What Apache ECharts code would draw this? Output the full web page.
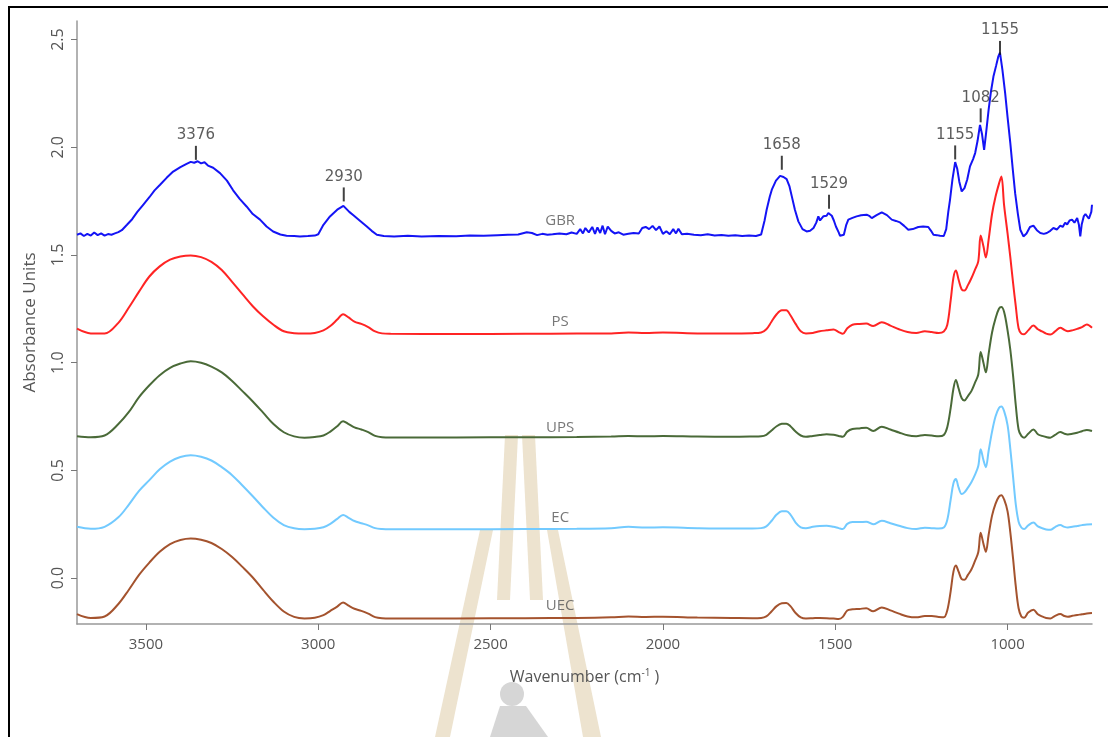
<!DOCTYPE html>
<html>
<head>
<meta charset="utf-8">
<script src="https://cdn.jsdelivr.net/npm/echarts@6/dist/echarts.min.js"></script>
<style>html,body{margin:0;padding:0;background:#fff;}#c{width:1108px;height:737px;}</style>
</head>
<body>
<div id="c"></div>
<script>
// ---- data ----
const wnSmooth = [3700,3660,3620,3580,3550,3520,3490,3460,3430,3400,3370,3340,3310,3280,3250,3220,3190,3160,3130,3100,3070,3040,3010,2985,2965,2945,2928,2912,2895,2875,2855,2835,2815,2790,2600,2400,2250,2150,2100,2050,2000,1900,1800,1740,1715,1700,1685,1670,1655,1642,1630,1615,1600,1585,1565,1545,1525,1505,1490,1478,1465,1450,1430,1410,1390,1365,1340,1315,1290,1265,1240,1220,1200,1185,1175,1165,1157,1150,1142,1133,1125,1115,1105,1095,1085,1078,1070,1063,1055,1045,1035,1025,1018,1010,1000,992,984,976,968,960,952,940,925,912,900,888,876,862,847,835,825,812,798,784,770,755];

const psVals = [1.158,1.136,1.135,1.185,1.255,1.330,1.400,1.447,1.478,1.493,1.498,1.490,1.468,1.430,1.375,1.318,1.262,1.215,1.176,1.146,1.137,1.135,1.138,1.150,1.170,1.200,1.225,1.210,1.191,1.180,1.165,1.145,1.136,1.134,1.133,1.134,1.135,1.136,1.140,1.138,1.140,1.136,1.135,1.137,1.140,1.155,1.190,1.225,1.243,1.243,1.220,1.180,1.146,1.136,1.138,1.146,1.150,1.154,1.142,1.134,1.160,1.176,1.180,1.182,1.170,1.188,1.172,1.155,1.142,1.138,1.146,1.142,1.138,1.145,1.175,1.290,1.395,1.428,1.385,1.340,1.335,1.360,1.392,1.430,1.470,1.590,1.540,1.488,1.570,1.690,1.770,1.830,1.864,1.730,1.600,1.490,1.370,1.260,1.160,1.135,1.132,1.150,1.172,1.155,1.145,1.135,1.131,1.145,1.162,1.152,1.146,1.150,1.157,1.165,1.177,1.162];

const upsVals = [0.659,0.654,0.662,0.715,0.770,0.840,0.895,0.942,0.976,0.996,1.007,1.000,0.982,0.955,0.915,0.868,0.820,0.768,0.715,0.677,0.658,0.652,0.655,0.662,0.680,0.705,0.728,0.715,0.700,0.690,0.678,0.660,0.654,0.653,0.653,0.654,0.655,0.657,0.660,0.658,0.660,0.657,0.656,0.657,0.658,0.665,0.685,0.705,0.716,0.717,0.705,0.680,0.662,0.656,0.660,0.664,0.668,0.665,0.660,0.656,0.680,0.692,0.695,0.698,0.683,0.703,0.690,0.676,0.663,0.659,0.664,0.662,0.658,0.664,0.700,0.790,0.880,0.920,0.880,0.835,0.825,0.845,0.868,0.905,0.945,1.050,1.000,0.955,1.040,1.140,1.205,1.250,1.258,1.235,1.150,1.060,0.940,0.800,0.690,0.660,0.652,0.670,0.690,0.668,0.660,0.655,0.652,0.665,0.678,0.670,0.667,0.670,0.675,0.682,0.688,0.683];

const ecVals = [0.238,0.229,0.238,0.282,0.340,0.405,0.455,0.505,0.541,0.562,0.570,0.563,0.546,0.515,0.478,0.430,0.380,0.328,0.280,0.246,0.231,0.227,0.229,0.236,0.252,0.275,0.293,0.280,0.265,0.255,0.245,0.232,0.228,0.227,0.227,0.228,0.229,0.232,0.238,0.235,0.236,0.232,0.230,0.230,0.232,0.240,0.265,0.295,0.310,0.310,0.295,0.258,0.236,0.232,0.238,0.242,0.243,0.238,0.232,0.228,0.252,0.260,0.260,0.262,0.250,0.266,0.255,0.243,0.232,0.228,0.234,0.232,0.230,0.235,0.270,0.365,0.440,0.460,0.420,0.390,0.398,0.420,0.445,0.478,0.520,0.598,0.548,0.515,0.590,0.680,0.750,0.790,0.797,0.775,0.710,0.600,0.470,0.340,0.262,0.235,0.228,0.245,0.258,0.240,0.232,0.226,0.224,0.237,0.246,0.238,0.235,0.238,0.242,0.246,0.249,0.250];

const uecVals = [-0.167,-0.185,-0.178,-0.120,-0.055,0.015,0.072,0.122,0.158,0.177,0.184,0.178,0.163,0.135,0.098,0.052,0.003,-0.055,-0.110,-0.155,-0.180,-0.187,-0.184,-0.172,-0.152,-0.132,-0.113,-0.128,-0.142,-0.152,-0.165,-0.181,-0.186,-0.187,-0.187,-0.186,-0.185,-0.182,-0.178,-0.180,-0.179,-0.183,-0.185,-0.186,-0.185,-0.178,-0.155,-0.130,-0.117,-0.116,-0.130,-0.162,-0.182,-0.187,-0.186,-0.185,-0.186,-0.188,-0.190,-0.180,-0.150,-0.145,-0.143,-0.140,-0.154,-0.136,-0.150,-0.165,-0.178,-0.182,-0.176,-0.176,-0.180,-0.182,-0.150,-0.060,0.030,0.058,0.030,-0.005,-0.008,0.015,0.040,0.078,0.120,0.210,0.160,0.122,0.200,0.290,0.345,0.378,0.385,0.365,0.310,0.212,0.090,-0.040,-0.140,-0.178,-0.184,-0.160,-0.147,-0.168,-0.178,-0.185,-0.187,-0.175,-0.167,-0.176,-0.179,-0.175,-0.171,-0.168,-0.164,-0.162];

const wnGBR = [3700,3690,3680,3670,3660,3650,3640,3630,3620,3610,3600,3590,3580,3570,3555,3540,3525,3508,3490,3475,3459,3440,3421,3400,3382,3370,3360,3350,3340,3330,3320,3305,3285,3265,3247,3228,3208,3190,3169,3150,3131,3110,3092,3070,3053,3030,3010,3000,2985,2966,2945,2927,2910,2898,2880,2860,2845,2830,2810,2780,2740,2700,2650,2600,2560,2520,2480,2450,2420,2395,2380,2365,2350,2335,2320,2300,2280,2265,2250,2240,2232,2225,2215,2205,2197,2190,2182,2175,2168,2160,2150,2140,2128,2115,2100,2085,2070,2060,2050,2040,2030,2020,2010,2000,1990,1980,1970,1962,1955,1945,1930,1910,1890,1870,1850,1830,1810,1790,1770,1750,1730,1715,1705,1699,1690,1684,1672,1660,1650,1641,1633,1626,1617,1607,1595,1583,1573,1563,1555,1549,1544,1539,1534,1530,1525,1520,1515,1510,1504,1498,1490,1486,1475,1468,1462,1450,1438,1425,1409,1400,1394,1380,1365,1350,1336,1324,1312,1300,1288,1275,1259,1245,1230,1222,1215,1205,1196,1185,1178,1172,1167,1160,1152,1146,1140,1133,1125,1117,1109,1100,1094,1087,1080,1074,1068,1062,1055,1048,1041,1033,1027,1022,1015,1007,1000,992,985,978,970,963,954,945,935,925,915,905,895,886,876,867,857,847,840,833,827,820,813,806,798,793,789,785,779,774,769,764,760,757,755];

const gbrVals = [1.594,1.600,1.588,1.598,1.590,1.604,1.592,1.600,1.590,1.597,1.594,1.600,1.606,1.615,1.640,1.666,1.700,1.733,1.768,1.800,1.826,1.858,1.887,1.908,1.923,1.932,1.928,1.935,1.925,1.930,1.915,1.905,1.880,1.845,1.800,1.760,1.725,1.690,1.664,1.632,1.609,1.595,1.589,1.588,1.586,1.588,1.590,1.596,1.640,1.679,1.710,1.728,1.700,1.684,1.660,1.633,1.612,1.594,1.588,1.586,1.589,1.586,1.588,1.587,1.590,1.589,1.592,1.594,1.595,1.605,1.602,1.592,1.598,1.594,1.596,1.600,1.596,1.604,1.598,1.620,1.600,1.625,1.605,1.630,1.598,1.628,1.602,1.636,1.596,1.632,1.612,1.600,1.605,1.594,1.598,1.602,1.600,1.625,1.630,1.620,1.635,1.615,1.632,1.598,1.610,1.596,1.620,1.600,1.622,1.596,1.598,1.594,1.592,1.596,1.590,1.593,1.589,1.591,1.588,1.590,1.588,1.595,1.660,1.710,1.770,1.803,1.845,1.867,1.862,1.852,1.820,1.772,1.710,1.656,1.620,1.609,1.612,1.625,1.650,1.679,1.660,1.656,1.680,1.687,1.682,1.695,1.692,1.682,1.660,1.632,1.605,1.589,1.594,1.640,1.664,1.672,1.679,1.684,1.687,1.680,1.671,1.685,1.698,1.685,1.664,1.658,1.651,1.635,1.617,1.620,1.630,1.632,1.630,1.612,1.594,1.592,1.589,1.588,1.620,1.700,1.756,1.850,1.931,1.900,1.840,1.795,1.810,1.850,1.911,1.945,1.973,2.030,2.104,2.060,1.988,2.070,2.173,2.260,2.328,2.380,2.420,2.439,2.360,2.251,2.140,2.019,1.900,1.787,1.690,1.617,1.586,1.600,1.630,1.636,1.615,1.602,1.598,1.602,1.612,1.625,1.618,1.636,1.630,1.650,1.642,1.660,1.664,1.650,1.671,1.640,1.586,1.640,1.679,1.690,1.687,1.668,1.664,1.700,1.733];

const seriesNames = ['GBR','PS','UPS','EC','UEC'];
const seriesColors = ['#1414f5','#ff2424','#4a6a38','#72caff','#a4532e'];
const nameLabelWn = [2298,2298,2298,2298,2298];
const nameLabelY = [1.659,1.191,0.700,0.278,-0.130];

const peakText = ['3376','2930','1658','1529','1155','1082','1155'];
const peakWn = [3355,2926,1655,1518,1152,1078,1022];
const peakY = [1.974,1.781,1.928,1.747,1.976,2.148,2.461];

const xTicks = [1000,1500,2000,2500,3000,3500];
const yTicks = [0,0.5,1,1.5,2,2.5];

// ---- chart ----
const chart = echarts.init(document.getElementById('c'), null, {renderer:'canvas'});
const pair = (xs, ys) => xs.map((x,i)=>[x, ys[i]]);
const allData = [pair(wnGBR,gbrVals), pair(wnSmooth,psVals), pair(wnSmooth,upsVals), pair(wnSmooth,ecVals), pair(wnSmooth,uecVals)];

const axisFont = "'Open Sans', 'Noto Sans', sans-serif";
const series = allData.map((d,i)=>({
  name: seriesNames[i], type:'line', data:d, showSymbol:false, symbol:'none',
  smooth: i===0 ? false : 0.35,
  lineStyle:{color:seriesColors[i], width:2}, z:3, silent:true
}));
series.push({
  type:'scatter', name:'names', silent:true, z:4,
  data: nameLabelWn.map((w,i)=>[w, nameLabelY[i], seriesNames[i]]),
  symbolSize:1, itemStyle:{color:'rgba(0,0,0,0)'},
  label:{show:true, position:'inside', formatter:p=>p.value[2], color:'#555', fontSize:15, fontFamily:axisFont}
});
series.push({
  type:'scatter', name:'peaks', silent:true, z:5,
  data: peakWn.map((w,i)=>[w, peakY[i], peakText[i]]),
  symbol:'rect', symbolSize:[2,14], itemStyle:{color:'#111'},
  label:{show:true, position:'top', distance:3, formatter:p=>p.value[2], color:'#333', fontSize:15, fontFamily:"'DejaVu Sans', sans-serif"}
});

chart.setOption({
  animation:false,
  backgroundColor:'#fff',
  grid:{left:77, right:16, top:21, bottom:113},
  xAxis:{
    type:'value', inverse:true, min:755, max:3700,
    name:'Wavenumber (cm{sup|-1} )', nameLocation:'middle', nameGap:44,
    nameTextStyle:{color:'#555', fontSize:16, fontFamily:axisFont,
      rich:{sup:{fontSize:10, verticalAlign:'top', color:'#555', fontFamily:axisFont, padding:[0,0,8,0]}}},
    axisLine:{show:true, onZero:false, lineStyle:{color:'#999', width:1.5}},
    axisTick:{show:true, customValues:xTicks, length:6, lineStyle:{color:'#777'}},
    axisLabel:{customValues:xTicks, color:'#555', fontSize:15, fontFamily:axisFont, margin:13,
      formatter:v=>String(v)},
    splitLine:{show:false}
  },
  yAxis:{
    type:'value', min:-0.213, max:2.586,
    name:'Absorbance Units', nameLocation:'middle', nameGap:38, nameRotate:90,
    nameTextStyle:{color:'#555', fontSize:17, fontFamily:axisFont},
    axisLine:{show:true, onZero:false, lineStyle:{color:'#999', width:1.5}},
    axisTick:{show:true, customValues:yTicks, length:6, lineStyle:{color:'#777'}},
    axisLabel:{customValues:yTicks, rotate:90, color:'#555', fontSize:16, fontFamily:axisFont, margin:11,
      formatter:v=>v.toFixed(1)},
    splitLine:{show:false}
  },
  graphic:[
    {type:'rect', z:-10, silent:true, shape:{x:9,y:7,width:1200,height:800}, style:{fill:null, stroke:'#000', lineWidth:2}},
    {type:'polygon', z:-5, silent:true, shape:{points:[[505,435],[518,435],[510,600],[497,600]]}, style:{fill:'#ede3cf'}},
    {type:'polygon', z:-5, silent:true, shape:{points:[[522,435],[535,435],[543,600],[530,600]]}, style:{fill:'#ede3cf'}},
    {type:'polygon', z:-5, silent:true, shape:{points:[[480,530],[493,530],[450,737],[435,737]]}, style:{fill:'#ede3cf'}},
    {type:'polygon', z:-5, silent:true, shape:{points:[[547,530],[558,530],[601,737],[583,737]]}, style:{fill:'#ede3cf'}},
    {type:'circle', z:-5, silent:true, shape:{cx:512,cy:694,r:12}, style:{fill:'#d6d6d6'}},
    {type:'polygon', z:-5, silent:true, shape:{points:[[500,706],[526,706],[548,737],[490,737]]}, style:{fill:'#d6d6d6'}}
  ],
  series: series
});
</script>
</body>
</html>
